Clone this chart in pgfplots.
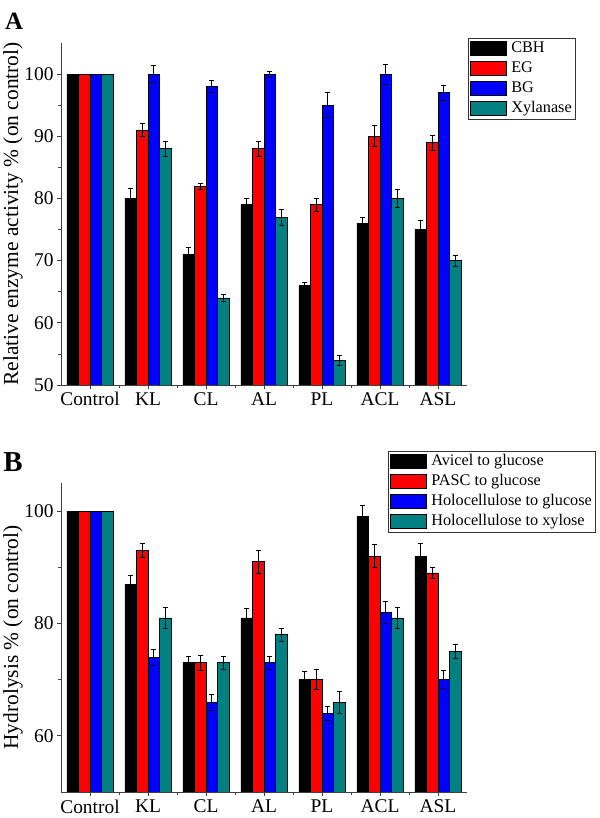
\documentclass[border=0pt]{standalone}
\usepackage{fontspec}
\setmainfont{Liberation Serif}
\usepackage{pgfplots}
\pgfplotsset{compat=1.18}
\definecolor{barred}{RGB}{255,0,0}
\definecolor{barblue}{RGB}{0,0,255}
\definecolor{barteal}{RGB}{0,128,128}

% panel A: relative enzyme activity
\pgfplotstableread{
x y e
0 100 0
1 80 1.7
2 71 1.1
3 79 1.0
4 66 0.5
5 76 0.9
6 75 1.4
}\cbh
\pgfplotstableread{
x y e
0 100 0
1 91 1.0
2 82 0.5
3 88 1.2
4 79 1.0
5 90 1.7
6 89 1.2
}\eg
\pgfplotstableread{
x y e
0 100 0
1 100 1.4
2 98 1.0
3 100 0.5
4 95 2.0
5 100 1.6
6 97 1.2
}\bg
\pgfplotstableread{
x y e
0 100 0
1 88 1.2
2 64 0.5
3 77 1.3
4 54 0.8
5 80 1.5
6 70 0.9
}\xyl

% panel B: hydrolysis
\pgfplotstableread{
x y e
0 100 0
1 87 1.6
2 73 1.2
3 81 1.7
4 70 1.4
5 99 2.0
6 92 2.3
}\avicel
\pgfplotstableread{
x y e
0 100 0
1 93 1.3
2 73 1.4
3 91 2.0
4 70 1.8
5 92 2.0
6 89 1.0
}\pasc
\pgfplotstableread{
x y e
0 100 0
1 74 1.4
2 66 1.4
3 73 1.2
4 64 1.2
5 82 2.0
6 70 1.6
}\holog
\pgfplotstableread{
x y e
0 100 0
1 81 1.8
2 73 1.2
3 78 1.2
4 66 2.0
5 81 1.8
6 75 1.3
}\holox

\pgfplotsset{
    barpanel/.style={
        scale only axis,
        width=406bp,
        axis lines*=left,
        axis line style={black!75, line width=0.8bp},
        tick style={black!75, line width=0.8bp},
        tick align=outside,
        major tick length=4bp, minor tick length=3bp,
        ybar=0pt, bar width=0.2,
        xmin=-0.5, xmax=6.5,
        xtick={0,...,6},
        xticklabels={Control,KL,CL,AL,PL,ACL,ASL},
        minor x tick num=1,
        /pgf/number format/assume math mode=true,
        tick label style={font=\fontsize{19.5}{22}\selectfont},
        label style={font=\fontsize{21.5}{24}\selectfont},
        ylabel style={at={(axis description cs:-0.118,0.5)}, anchor=center},
        every axis plot/.append style={draw=black, line width=0.6bp,
            error bars/y dir=both, error bars/y explicit,
            error bars/error bar style={black, line width=0.7bp},
            error bars/error mark options={rotate=90, mark size=2.5bp, black, line width=0.7bp}},
    },
    barlegend/.style={
        legend cell align=left,
        legend style={font=\fontsize{16.3}{18}\selectfont, draw=black!80,
            line width=0.8bp, inner sep=2bp, row sep=3bp, column sep=3bp,
            nodes={inner sep=1.5bp, text height=11bp, text depth=3bp}},
        legend image code/.code={
            \draw[##1, draw=black, line width=0.6bp] (0bp,-7bp) rectangle (36bp,7bp);
        },
    },
}

\begin{document}
\begin{tikzpicture}
\useasboundingbox (0,0) rectangle (600bp,818bp);

\node[font=\bfseries\fontsize{25}{27}\selectfont] at (14bp,797bp) {A};
\node[font=\bfseries\fontsize{29}{31}\selectfont] at (13bp,356bp) {B};

\begin{axis}[barpanel, barlegend,
    at={(61bp,433bp)}, anchor=south west,
    height=342bp,
    ymin=50, ymax=105,
    ytick={50,60,...,100}, minor y tick num=1,
    ylabel={Relative enzyme activity \% (on control)},
    legend style={at={(rel axis cs:1.002,1.015)}, anchor=north west},
]
\addplot[fill=black] table[x=x, y=y, y error=e] {\cbh};
\addplot[fill=barred] table[x=x, y=y, y error=e] {\eg};
\addplot[fill=barblue] table[x=x, y=y, y error=e] {\bg};
\addplot[fill=barteal] table[x=x, y=y, y error=e] {\xyl};
\legend{CBH, EG, BG, Xylanase}
\end{axis}

\begin{axis}[barpanel, barlegend,
    at={(61bp,26bp)}, anchor=south west,
    height=309bp,
    ymin=50, ymax=105,
    ytick={60,80,100}, minor y tick num=1,
    ylabel={Hydrolysis \% (on control)},
    legend style={at={(rel axis cs:0.805,1.104)}, anchor=north west},
]
\addplot[fill=black] table[x=x, y=y, y error=e] {\avicel};
\addplot[fill=barred] table[x=x, y=y, y error=e] {\pasc};
\addplot[fill=barblue] table[x=x, y=y, y error=e] {\holog};
\addplot[fill=barteal] table[x=x, y=y, y error=e] {\holox};
\legend{Avicel to glucose, PASC to glucose, Holocellulose to glucose, Holocellulose to xylose}
\end{axis}
\end{tikzpicture}
\end{document}
